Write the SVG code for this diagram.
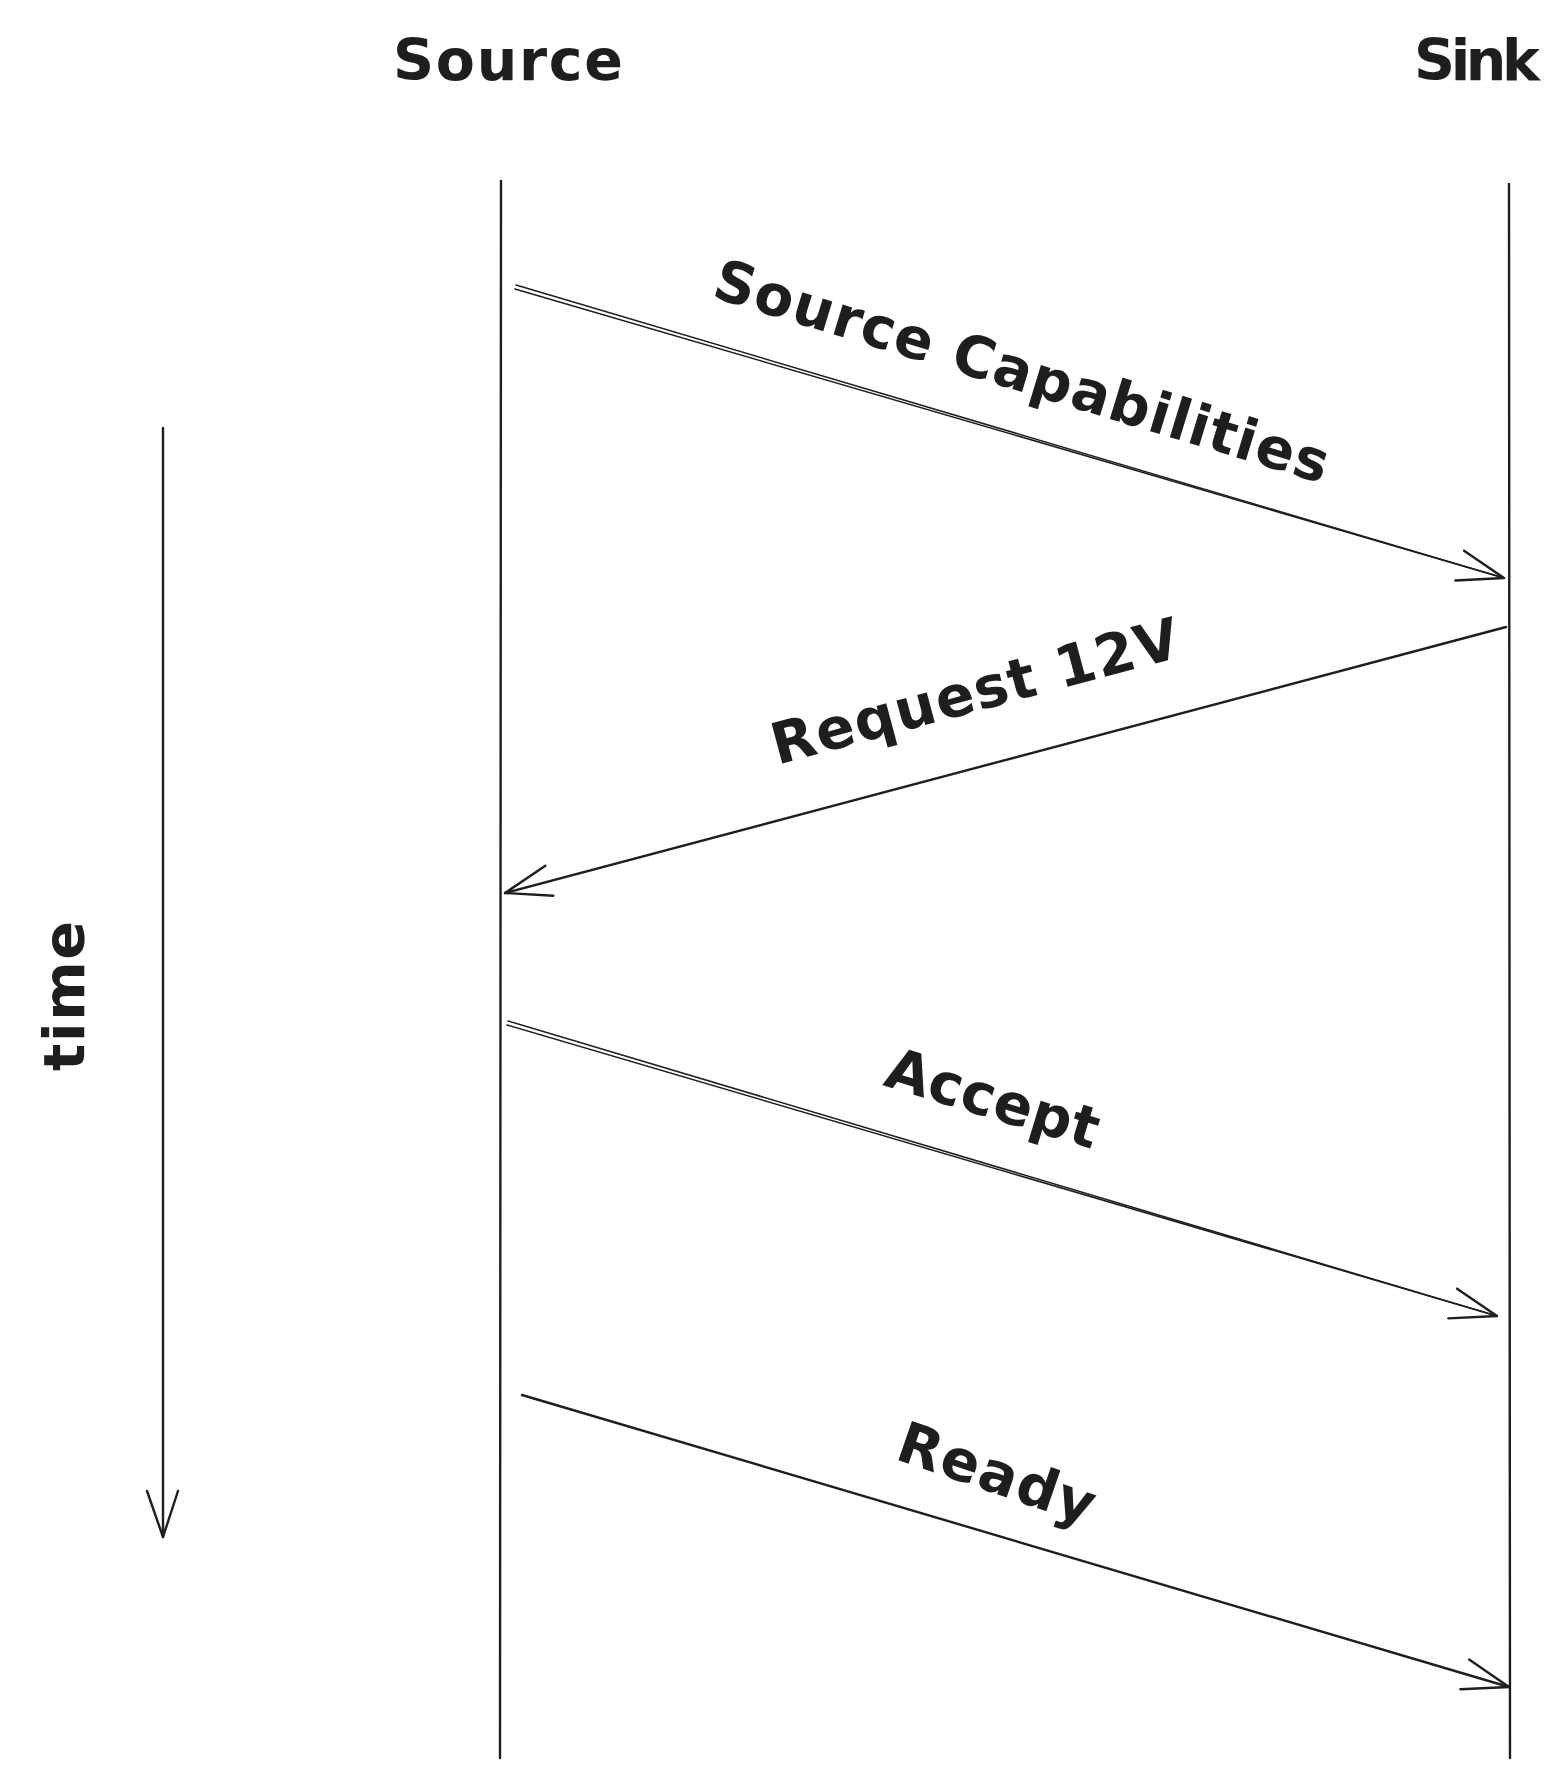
<svg xmlns="http://www.w3.org/2000/svg" width="1563" height="1778" viewBox="0 0 1563 1778">
<style>
.ln{stroke:#1e1e1e;stroke-width:2.4;fill:none;stroke-linecap:round}
.thin{stroke:#1e1e1e;stroke-width:1.5;fill:none;stroke-linecap:round}
.t{font-family:"DejaVu Sans","Liberation Sans",sans-serif;font-size:57px;font-weight:bold;fill:#1e1e1e;text-anchor:middle;dominant-baseline:central}
</style>
<defs>
<marker id="ah" markerUnits="userSpaceOnUse" orient="auto" refX="0" refY="0" markerWidth="60" markerHeight="40" viewBox="-50 -20 60 40" overflow="visible">
<path d="M -46 -15 L 0 0 L -46 16" fill="none" stroke="#1e1e1e" stroke-width="2.4" stroke-linecap="round" stroke-linejoin="round"/>
</marker>
</defs>
<rect width="1563" height="1778" fill="#ffffff"/>
<g id="source">
<text class="t" x="508" y="60" textLength="230" lengthAdjust="spacing">Source</text>
<line class="ln" x1="501" y1="181" x2="500" y2="1758"/>
</g>
<g id="sink">
<text class="t" x="1477" y="60" textLength="126" lengthAdjust="spacing">Sink</text>
<line class="ln" x1="1509" y1="184" x2="1510" y2="1758"/>
</g>
<g id="time">
<text class="t" transform="translate(64,996) rotate(-90)" textLength="150" lengthAdjust="spacing">time</text>
</g>
<g id="connectors">
<line class="ln" x1="163" y1="428" x2="163" y2="1537" marker-end="url(#ah)"/>
<line class="thin" x1="516" y1="285" x2="1504" y2="578"/>
<line class="thin" x1="515" y1="289" x2="1504" y2="578" marker-end="url(#ah)"/>
<line class="ln" x1="1506" y1="627" x2="505" y2="893" marker-end="url(#ah)"/>
<line class="thin" x1="508" y1="1021" x2="1497" y2="1316"/>
<line class="thin" x1="507" y1="1025" x2="1497" y2="1316" marker-end="url(#ah)"/>
<line class="ln" x1="522" y1="1395" x2="1509" y2="1687" marker-end="url(#ah)"/>
</g>
<g id="labels">
<text class="t" transform="translate(1022,371) rotate(17)" textLength="640" lengthAdjust="spacing">Source Capabilities</text>
<text class="t" transform="translate(975,691) rotate(-15)" textLength="420" lengthAdjust="spacing">Request 12V</text>
<text class="t" transform="translate(993,1098) rotate(17)" textLength="220" lengthAdjust="spacing">Accept</text>
<text class="t" transform="translate(997,1473) rotate(19)" textLength="205" lengthAdjust="spacing">Ready</text>
</g>
</svg>
